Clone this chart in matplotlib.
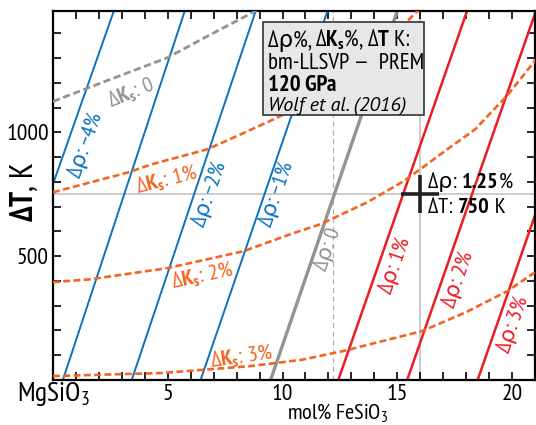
import matplotlib
matplotlib.use("Agg")
import matplotlib.pyplot as plt
from matplotlib import font_manager
from matplotlib.ticker import MultipleLocator
from matplotlib.patches import Rectangle
from matplotlib.offsetbox import TextArea, HPacker, AnnotationBbox

names = {f.name for f in font_manager.fontManager.ttflist}
FONT = "Liberation Sans"
for cand in ["Myriad Pro Cond", "PT Sans Narrow", "Fira Sans Condensed", "Asap Condensed",
             "Archivo Narrow", "Roboto Condensed"]:
    if cand in names:
        FONT = cand
        break
ITFONT = "PT Sans" if (FONT == "PT Sans Narrow" and "PT Sans" in names) else FONT
FAM = [FONT, "DejaVu Sans"]
plt.rcParams["font.family"] = FAM
plt.rcParams["mathtext.fontset"] = "custom"
plt.rcParams["mathtext.rm"] = FONT
plt.rcParams["mathtext.bf"] = FONT + ":bold"
plt.rcParams["mathtext.it"] = FONT + ":italic"

BLUE = "#0a72bf"
RED = "#ec1c24"
ORANGE = "#f26522"
GRAY = "#939393"

# density contours (d rho %): x (mol% FeSiO3) at dT = 0 K and at dT = 1490 K
rho_levels = [-4, -3, -2, -1, 0, 1, 2, 3]
rho_x_bottom = [-3.0, 0.43, 3.43, 6.43, 9.48, 12.43, 15.43, 18.5]
rho_x_top = [2.65, 5.74, 8.83, 11.96, 15.0, 18.04, 21.04, 24.1]
T_span = [0, 1490]

# Ks contours
ks0_x = [0.0, 2.5, 5.0, 6.7, 8.7, 9.2]
ks0_T = [1125, 1214, 1302, 1387, 1484, 1510]
ks1_x = [0.0, 3.3, 4.3, 6.7, 7.7, 9.6, 11.5, 13.5, 15.9, 16.2]
ks1_T = [758, 839, 871, 931, 972, 1052, 1140, 1270, 1492, 1515]
ks2_x = [0.0, 1.65, 5.0, 8.3, 10.35, 11.65, 13.7, 15.26, 16.0, 17.17, 18.39, 19.83, 21.04]
ks2_T = [395, 407, 452, 520, 589, 629, 718, 802, 851, 931, 1012, 1153, 1294]
ks3_x = [0.0, 4.7, 8.6, 10.8, 12.65, 16.1, 18.0, 19.8, 21.0]
ks3_T = [16, 28, 56, 81, 117, 198, 274, 359, 435]

# bm-LLSVP estimate
best_x = 16.0
best_T = 750
best_rho = "1.25"
ref_x = 12.2

fig = plt.figure(figsize=(5.36, 4.25), dpi=100)
ax = fig.add_axes([53 / 536, 45 / 425, 482 / 536, 369 / 425])

ax.axhline(best_T, color="#c8c8c8", lw=1.3, zorder=1)
ax.axvline(best_x, color="#c8c8c8", lw=1.3, zorder=1)
ax.axvline(ref_x, color="#b0b0b0", lw=0.9, ls=(0, (4, 3)), zorder=1)

for lev, xb, xt in zip(rho_levels, rho_x_bottom, rho_x_top):
    if lev < 0:
        c, lw = BLUE, 1.4
    elif lev == 0:
        c, lw = GRAY, 2.4
    else:
        c, lw = RED, 1.8
    ax.plot([xb, xt], T_span, color=c, lw=lw, zorder=2)

dash = (0, (2.6, 1.3))
ax.plot(ks0_x, ks0_T, color=GRAY, lw=2.0, ls=dash, zorder=3)
for kx, kT in [(ks1_x, ks1_T), (ks2_x, ks2_T), (ks3_x, ks3_T)]:
    ax.plot(kx, kT, color=ORANGE, lw=1.9, ls=dash, zorder=3)

ax.plot(best_x, best_T, marker="+", ms=27, mew=2.6, color="#231f20", zorder=5)

# contour labels
rho_lab = [(1.4, 950, "Δρ: −4%", BLUE), (6.8, 750, "Δρ: −2%", BLUE),
           (9.75, 750, "Δρ: −1%", BLUE), (11.95, 528, "Δρ: 0", GRAY),
           (14.9, 464, "Δρ: 1%", RED), (17.65, 407, "Δρ: 2%", RED),
           (20.05, 226, "Δρ: 3%", RED)]
for x, T, s, c in rho_lab:
    ax.text(x, T, s, color=c, fontsize=16, rotation=71, ha="center", va="center",
            rotation_mode="anchor", zorder=4)

ks_lab = [(3.4, 1160, "0", GRAY, 22), (4.96, 808, "1%", ORANGE, 14),
          (6.5, 418, "2%", ORANGE, 12), (8.2, 92, "3%", ORANGE, 8)]
for x, T, s, c, r in ks_lab:
    ax.text(x, T, "Δ$\\mathbf{K_s}$: " + s, color=c, fontsize=16, rotation=r,
            ha="center", va="center", rotation_mode="anchor", zorder=4)


def packed(parts, xy, coords, size):
    kids = [TextArea(s, textprops=dict(fontsize=size, family=FAM, fontweight=w))
            for s, w in parts]
    box = HPacker(children=kids, align="baseline", pad=0, sep=0)
    ab = AnnotationBbox(box, xy, xycoords=coords, box_alignment=(0, 0.5),
                        frameon=False, pad=0)
    ab.set_zorder(7)
    ax.add_artist(ab)


# info box
ax.add_patch(Rectangle((0.4357, 0.718), 0.334, 0.252, transform=ax.transAxes,
                       facecolor="#e6e7e8", edgecolor="#333333", lw=1.2, zorder=6))
box_y = [0.921, 0.859, 0.797, 0.742]
packed([("Δρ%, ", "normal"), ("Δ$\\mathbf{K_s}$%, Δ$\\mathbf{T}$ K:", "normal")],
       (0.446, box_y[0]), "axes fraction", 16.5)
ax.text(0.446, box_y[1], "bm-LLSVP —  PREM", transform=ax.transAxes,
        fontsize=16.5, ha="left", va="center", zorder=7)
ax.text(0.446, box_y[2], "120 GPa", transform=ax.transAxes, fontweight="bold",
        fontsize=16.5, ha="left", va="center", zorder=7)
ax.text(0.446, box_y[3], "Wolf et al. (2016)", transform=ax.transAxes, fontstyle="italic",
        family=[ITFONT, "DejaVu Sans"], fontsize=14.5, ha="left", va="center", zorder=7)

packed([("Δρ: ", "normal"), (best_rho, "bold"), ("%", "normal")],
       (16.35, 800), "data", 16)
packed([("ΔT: ", "normal"), (str(best_T), "bold"), (" K", "normal")],
       (16.35, 698), "data", 16)

ax.set_xlim(0, 21)
ax.set_ylim(0, 1490)
ax.xaxis.set_major_locator(MultipleLocator(5))
ax.xaxis.set_minor_locator(MultipleLocator(1))
ax.yaxis.set_major_locator(MultipleLocator(500))
ax.yaxis.set_minor_locator(MultipleLocator(100))
ax.set_xticks([5, 10, 15, 20])
ax.set_yticks([500, 1000])
ax.tick_params(which="both", direction="in", top=True, right=True, length=6,
               width=1.2, labelsize=17, pad=3)
for sp in ax.spines.values():
    sp.set_linewidth(1.6)

ax.text(0.0, -56, "MgSiO$_3$", fontsize=20, ha="center", va="center", clip_on=False)
ax.text(12.4, -136, "mol% FeSiO$_3$", fontsize=16, ha="center", va="center", clip_on=False)
fig.text(24 / 536, 1 - 192 / 425, "$\\mathbf{ΔT}$, K", fontsize=23, rotation=90,
         ha="center", va="center")

fig.savefig("out.png", dpi=100)
